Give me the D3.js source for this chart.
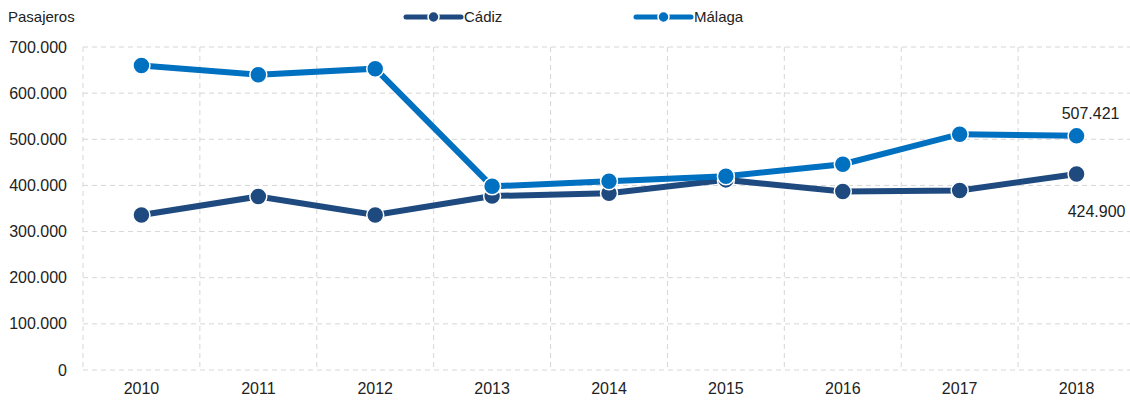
<!DOCTYPE html>
<html>
<head>
<meta charset="utf-8">
<script src="https://cdn.jsdelivr.net/npm/d3@7"></script>
<style>
  body { margin: 0; background: #fff; }
  svg text { font-family: "Liberation Sans", Arial, sans-serif; fill: #222; }
</style>
</head>
<body>
<svg id="chart" width="1130" height="401"></svg>
<script>
var years = ["2010", "2011", "2012", "2013", "2014", "2015", "2016", "2017", "2018"];
var cadiz = [336000, 376000, 336000, 377000, 383000, 412000, 387000, 389000, 424900];
var malaga = [660000, 640000, 653000, 398000, 409000, 420000, 446000, 511000, 507421];
var yTicks = [0, 100000, 200000, 300000, 400000, 500000, 600000, 700000];

var colorCadiz = "#1f4a7f";
var colorMalaga = "#0070c0";

var svg = d3.select("#chart");

var x = d3.scaleBand()
  .domain(years)
  .range([83, 1135]);

var y = d3.scaleLinear()
  .domain([0, 700000])
  .range([370, 47]);

var fmt = function(d) { return d3.format(",")(d).replace(/,/g, "."); };

// grid
svg.append("g").selectAll("line")
  .data(yTicks)
  .enter().append("line")
    .attr("x1", 83).attr("x2", 1135)
    .attr("y1", d => y(d)).attr("y2", d => y(d))
    .attr("stroke", "#d6d6d6")
    .attr("stroke-dasharray", "5,4");

svg.append("g").selectAll("line")
  .data(years)
  .enter().append("line")
    .attr("x1", d => x(d)).attr("x2", d => x(d))
    .attr("y1", y(700000)).attr("y2", y(0))
    .attr("stroke", "#d6d6d6")
    .attr("stroke-dasharray", "5,4");

// axes
var yAxis = svg.append("g")
  .attr("transform", "translate(83,0)")
  .call(d3.axisLeft(y).tickValues(yTicks).tickFormat(fmt).tickSize(0).tickPadding(16));
yAxis.select(".domain").remove();
yAxis.selectAll("text").style("font-size", "16px").attr("fill", "#222");

var xAxis = svg.append("g")
  .attr("transform", "translate(0,370)")
  .call(d3.axisBottom(x).tickSize(0).tickPadding(13));
xAxis.select(".domain").remove();
xAxis.selectAll("text").style("font-size", "16px").attr("fill", "#222");

svg.append("text")
  .attr("x", 8).attr("y", 22)
  .style("font-size", "15px")
  .text("Pasajeros");

// series
var series = [
  {name: "Cádiz", values: cadiz, color: colorCadiz},
  {name: "Málaga", values: malaga, color: colorMalaga}
];

var line = d3.line()
  .x((d, i) => x(years[i]) + x.bandwidth() / 2)
  .y(d => y(d));

series.forEach(function(s) {
  svg.append("path")
    .datum(s.values)
    .attr("fill", "none")
    .attr("stroke", s.color)
    .attr("stroke-width", 6)
    .attr("d", line);

  svg.append("g").selectAll("circle")
    .data(s.values)
    .enter().append("circle")
      .attr("cx", (d, i) => x(years[i]) + x.bandwidth() / 2)
      .attr("cy", d => y(d))
      .attr("r", 8.5)
      .attr("fill", s.color)
      .attr("stroke", "#fff")
      .attr("stroke-width", 1.5);
});

// end labels
var last = years.length - 1;
svg.append("text")
  .attr("x", x(years[last]) + x.bandwidth() / 2 + 14)
  .attr("y", y(malaga[last]) - 17)
  .attr("text-anchor", "middle")
  .style("font-size", "16px")
  .text(fmt(malaga[last]));

svg.append("text")
  .attr("x", x(years[last]) + x.bandwidth() / 2 + 20)
  .attr("y", y(cadiz[last]) + 43)
  .attr("text-anchor", "middle")
  .style("font-size", "16px")
  .text(fmt(cadiz[last]));

// legend
var legend = svg.selectAll(".legend")
  .data(series)
  .enter().append("g")
    .attr("class", "legend")
    .attr("transform", (d, i) => "translate(" + (406 + i * 230) + ",17)");

legend.append("line")
  .attr("x1", 0).attr("x2", 55)
  .attr("stroke", d => d.color)
  .attr("stroke-width", 5)
  .attr("stroke-linecap", "round");

legend.append("circle")
  .attr("cx", 27.5).attr("r", 5.5)
  .attr("fill", d => d.color)
  .attr("stroke", "#fff")
  .attr("stroke-width", 1.5);

legend.append("text")
  .attr("x", 58)
  .attr("dy", "0.35em")
  .style("font-size", "15px")
  .text(d => d.name);
</script>
</body>
</html>
